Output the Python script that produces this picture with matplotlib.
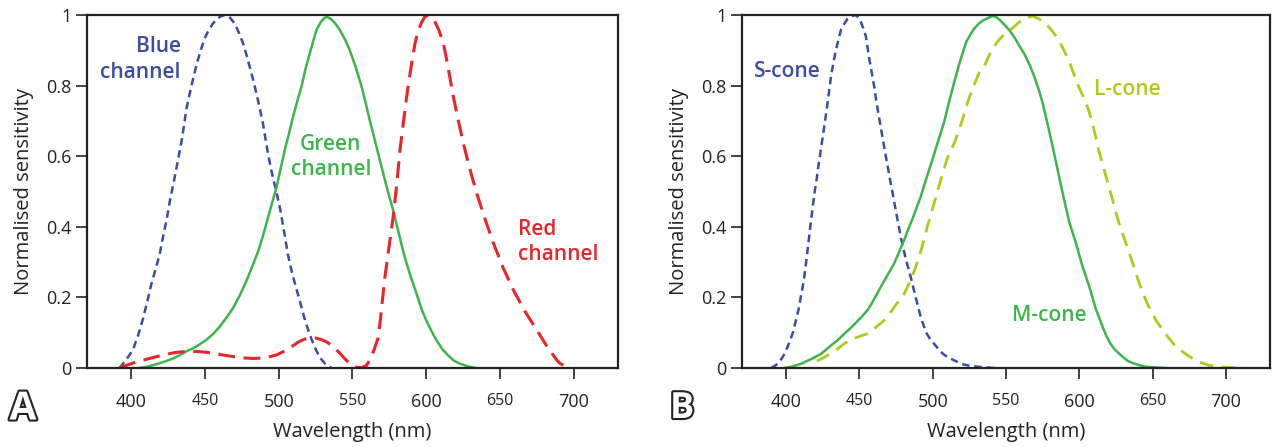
import matplotlib
matplotlib.use("Agg")
import matplotlib.pyplot as plt
import matplotlib.patheffects as pe

plt.rcParams['font.family'] = ['Open Sans', 'DejaVu Sans']

# camera channels (panel A)
blue_wl = [392, 396, 401, 404.5, 408, 411, 413.6, 416.5, 419.2, 421.5, 424, 426.5, 429, 431.5, 433.9,
           435.7, 437.3, 439, 440.7, 443, 445.2, 447.5, 449.8, 452.5, 455.4, 458.5, 461, 463.3,
           466.5, 470.1, 473, 475.8, 478, 480.3, 482.6, 484.9, 487.1, 489.3, 491, 492.7, 495.5,
           498.4, 501, 503.7, 506.3, 509, 511.6, 514.3, 517.5, 521, 524.5, 527.8, 531.5, 535.8]
blue_val = [0, 0.02, 0.05, 0.09, 0.14, 0.19, 0.237, 0.28, 0.32, 0.37, 0.42, 0.48, 0.53, 0.585, 0.637,
            0.685, 0.731, 0.765, 0.797, 0.837, 0.873, 0.905, 0.934, 0.957, 0.976, 0.99, 0.997, 1.0,
            0.995, 0.976, 0.95, 0.92, 0.889, 0.854, 0.817, 0.778, 0.736, 0.693, 0.65, 0.608, 0.55,
            0.5, 0.45, 0.385, 0.32, 0.27, 0.23, 0.19, 0.14, 0.095, 0.058, 0.03, 0.012, 0]

green_wl = [405.6, 412, 418, 424, 430, 437.3, 442, 446, 451, 455.4, 460, 465, 469, 473.5, 478, 482,
            486, 489, 492, 495, 498.4, 501.3, 504.1, 507, 509.7, 512.5, 515.4, 518, 521, 523.5,
            525.6, 528.5, 530.5, 532.4, 535, 538, 541.4, 545, 548.2, 552, 556, 559, 561.8, 565.5,
            570, 574, 577.6, 581.5, 585, 589, 593.5, 597, 600, 603.5, 607, 611, 615, 619, 623,
            628, 634]
green_val = [0, 0.005, 0.012, 0.02, 0.03, 0.047, 0.056, 0.066, 0.08, 0.096, 0.117, 0.145, 0.17, 0.205,
             0.246, 0.287, 0.33, 0.37, 0.415, 0.46, 0.51, 0.565, 0.618, 0.665, 0.712, 0.755, 0.797,
             0.845, 0.891, 0.928, 0.958, 0.98, 0.99, 0.995, 0.99, 0.978, 0.958, 0.93, 0.9, 0.855,
             0.8, 0.75, 0.7, 0.64, 0.565, 0.5, 0.447, 0.38, 0.32, 0.265, 0.21, 0.165, 0.135, 0.105,
             0.078, 0.053, 0.035, 0.02, 0.012, 0.005, 0]

red_wl = [392, 397, 402, 407, 412.4, 418, 424, 430, 437.3, 444, 450, 455.4, 462, 468, 475, 482.6, 488,
          493, 498.4, 502, 506, 509.7, 513, 517, 521, 525, 528.5, 532.4, 536, 539, 541.4, 544, 547,
          550.4, 553, 556, 559.5, 562, 564.5, 567.4, 569, 570.5, 572, 575, 577.6, 580, 582.2, 584.5,
          586.7, 588.5, 590.4, 592.4, 594.5, 597, 599, 601.4, 603.5, 606, 608.5, 611.6, 614, 616.2,
          618.4, 621.8, 625.2, 629.5, 634.3, 640, 645.6, 652, 659.2, 667, 675, 682, 685.5, 688.6,
          691, 694, 697.6]
red_val = [0, 0.008, 0.015, 0.021, 0.027, 0.033, 0.039, 0.044, 0.047, 0.047, 0.045, 0.042, 0.037, 0.033,
           0.029, 0.027, 0.028, 0.031, 0.037, 0.044, 0.053, 0.063, 0.073, 0.081, 0.086, 0.085, 0.081,
           0.074, 0.064, 0.052, 0.042, 0.03, 0.017, 0.006, 0.002, 0.001, 0.007, 0.025, 0.05, 0.085,
           0.14, 0.2, 0.258, 0.35, 0.428, 0.52, 0.617, 0.695, 0.768, 0.82, 0.87, 0.92, 0.955, 0.98,
           0.995, 1.0, 0.995, 0.98, 0.958, 0.92, 0.87, 0.82, 0.768, 0.7, 0.636, 0.565, 0.494, 0.42,
           0.353, 0.285, 0.22, 0.16, 0.107, 0.06, 0.04, 0.022, 0.012, 0.005, 0]

# cone fundamentals (panel B)
s_wl = [389.8, 393, 396, 399, 401, 403, 405, 406.7, 408.5, 410, 412, 413.6, 415, 416.5, 418, 419.3,
        420.7, 422, 423.5, 425, 426.5, 428, 429.3, 430.6, 432.3, 434, 435.7, 437.4, 439.7, 442,
        444.8, 447.6, 449.3, 451, 452.7, 454.4, 455.7, 457, 458.6, 460.1, 461.5, 463, 464.4, 465.7,
        468.5, 471.4, 474.8, 478.2, 481.6, 485, 488.4, 491.8, 494, 496, 498.5, 500.9, 504, 507,
        510.5, 514.5, 518, 521, 524.5, 528, 535, 541.7]
s_val = [0, 0.008, 0.02, 0.04, 0.06, 0.08, 0.105, 0.135, 0.165, 0.2, 0.245, 0.296, 0.345, 0.4, 0.45,
         0.494, 0.53, 0.57, 0.612, 0.655, 0.697, 0.74, 0.783, 0.825, 0.865, 0.9, 0.93, 0.957, 0.975,
         0.99, 0.997, 1.0, 0.993, 0.98, 0.962, 0.94, 0.905, 0.87, 0.833, 0.797, 0.757, 0.72, 0.687,
         0.655, 0.589, 0.523, 0.447, 0.371, 0.31, 0.258, 0.2, 0.145, 0.118, 0.097, 0.08, 0.069,
         0.053, 0.04, 0.03, 0.022, 0.015, 0.01, 0.007, 0.005, 0.002, 0]

m_wl = [398.9, 404, 410.2, 417, 423.8, 431, 435.5, 439.7, 444, 448, 452, 455.5, 458, 460, 462.3, 464.6,
        469, 473.7, 477, 480.5, 483, 486, 488.8, 491.8, 495.5, 499.7, 502.5, 505.4, 508, 510, 512.5,
        515, 518, 521, 523, 525, 528, 531.5, 534, 537, 540.6, 543, 546, 549, 552.3, 556, 559, 562.5,
        565.9, 568.5, 571, 573, 575, 577.5, 579.8, 581.8, 585, 588.6, 593, 597.7, 602, 606.8, 611,
        615.9, 618.5, 621, 624, 627.3, 630, 633, 637, 640.9, 645, 650, 659]
m_val = [0, 0.004, 0.012, 0.025, 0.04, 0.065, 0.08, 0.097, 0.113, 0.13, 0.147, 0.164, 0.18, 0.195,
         0.212, 0.23, 0.262, 0.296, 0.328, 0.362, 0.39, 0.42, 0.452, 0.485, 0.535, 0.589, 0.627,
         0.665, 0.7, 0.735, 0.775, 0.815, 0.86, 0.9, 0.925, 0.94, 0.96, 0.976, 0.984, 0.99, 0.997,
         0.995, 0.985, 0.972, 0.957, 0.935, 0.913, 0.89, 0.86, 0.834, 0.805, 0.779, 0.75, 0.706,
         0.664, 0.627, 0.565, 0.495, 0.415, 0.353, 0.29, 0.23, 0.17, 0.116, 0.09, 0.07, 0.053, 0.04,
         0.03, 0.02, 0.013, 0.008, 0.004, 0.002, 0]

l_wl = [421, 426, 430, 435, 439.7, 443, 447, 451, 455.5, 459, 462, 465.5, 469.1, 472, 475, 478, 480.5,
        484.5, 488.4, 492.5, 496.3, 501, 505.4, 510, 515, 520, 524, 528, 532, 536, 540, 545.1,
        549.5, 554.2, 559, 563.3, 567.8, 572, 576.9, 581.5, 585.9, 589.5, 592.7, 596, 599.5, 603,
        606.3, 610, 613.1, 618, 622.7, 627, 631.8, 636.5, 640.9, 646, 652.3, 659, 665.9, 674,
        681.8, 688, 695.5, 705, 711]
l_val = [0.02, 0.03, 0.04, 0.054, 0.069, 0.078, 0.085, 0.091, 0.097, 0.107, 0.118, 0.13, 0.145, 0.162,
         0.18, 0.195, 0.21, 0.245, 0.286, 0.34, 0.4, 0.467, 0.532, 0.595, 0.64, 0.7, 0.755, 0.8,
         0.84, 0.862, 0.9, 0.929, 0.948, 0.962, 0.98, 0.99, 0.997, 0.99, 0.976, 0.955, 0.929, 0.9,
         0.873, 0.835, 0.797, 0.765, 0.731, 0.675, 0.618, 0.545, 0.475, 0.41, 0.353, 0.295, 0.239,
         0.185, 0.135, 0.095, 0.06, 0.035, 0.017, 0.008, 0.003, 0.001, 0]

xticks = [400, 450, 500, 550, 600, 650, 700]
yticks = [0, 0.2, 0.4, 0.6, 0.8, 1.0]
ytick_labels = ['0', '0.2', '0.4', '0.6', '0.8', '1']

BLUE = '#3b4ba6'
GREEN = '#3db54a'
RED = '#e8242c'
LIME = '#b3c81a'
INK = '#222222'


def setup_axes(ax):
    ax.set_xlim(370, 730)
    ax.set_ylim(0, 1)
    for sp in ax.spines.values():
        sp.set_linewidth(1.6)
        sp.set_color(INK)
    ax.set_xticks(xticks)
    ax.set_yticks(yticks)
    ax.set_yticklabels(ytick_labels)
    ax.tick_params(direction='out', length=8, width=1.2, color=INK,
                   labelsize=13, labelcolor=INK)
    ax.tick_params(axis='x', pad=10)
    ax.tick_params(axis='y', pad=3)
    # the odd hundreds are printed a bit smaller
    for lab, t in zip(ax.get_xticklabels(), xticks):
        lab.set_fontsize(13 if t % 100 == 0 else 11.5)
    ax.set_xlabel('Wavelength (nm)', fontsize=14.5, color=INK, labelpad=8)
    ax.set_ylabel('Normalised sensitivity', fontsize=14.5, color=INK, labelpad=9)


fig = plt.figure(figsize=(12.75, 4.47), dpi=100)
axA = fig.add_axes([0.0682, 0.1767, 0.4165, 0.7897])
axB = fig.add_axes([0.582, 0.1767, 0.4141, 0.7897])

axA.plot(blue_wl, blue_val, color=BLUE, lw=1.8, dashes=(3.0, 1.9))
axA.plot(green_wl, green_val, color=GREEN, lw=1.8)
axA.plot(red_wl, red_val, color=RED, lw=2.2, dashes=(5.5, 2.8))
setup_axes(axA)

lab = dict(fontsize=15, fontweight='semibold', linespacing=1.3)
axA.text(433.5, 0.875, 'Blue\nchannel', color=BLUE, ha='right', va='center', multialignment='right', **lab)
axA.text(535.3, 0.598, 'Green\nchannel', color=GREEN, ha='center', va='center', multialignment='center', **lab)
axA.text(662.5, 0.357, 'Red\nchannel', color=RED, ha='left', va='center', multialignment='left', **lab)

axB.plot(s_wl, s_val, color=BLUE, lw=1.8, dashes=(3.0, 1.9))
axB.plot(m_wl, m_val, color=GREEN, lw=1.8)
axB.plot(l_wl, l_val, color=LIME, lw=2.0, dashes=(5.0, 3.0))
setup_axes(axB)

axB.text(378.4, 0.839, 'S-cone', color=BLUE, ha='left', va='center', **lab)
axB.text(610.2, 0.788, 'L-cone', color=LIME, ha='left', va='center', **lab)
axB.text(554.3, 0.15, 'M-cone', color=GREEN, ha='left', va='center', **lab)

outline = [pe.withStroke(linewidth=3, foreground=INK)]
fig.text(0.018, 0.085, 'A', fontsize=28, fontweight='bold', color='white',
         ha='center', va='center', path_effects=outline)
fig.text(0.535, 0.085, 'B', fontsize=26, fontweight='bold', color='white',
         ha='center', va='center', path_effects=outline)

fig.savefig('out.png', dpi=100)
